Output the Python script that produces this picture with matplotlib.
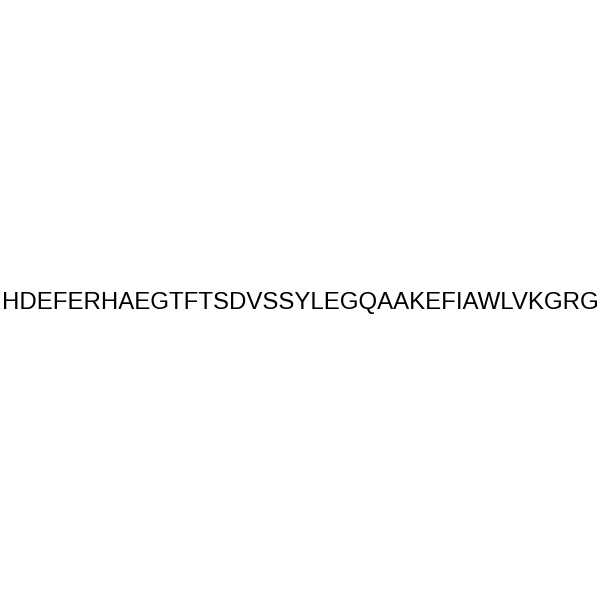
import matplotlib
matplotlib.use("Agg")
import matplotlib.pyplot as plt

sequence = "HDEFERHAEGTFTSDVSSYLEGQAAKEFIAWLVKGRG"

fig = plt.figure(figsize=(6, 6), dpi=100)
fig.text(0.5, 1 - 309 / 600, sequence, ha="center", va="baseline",
         fontsize=17.3, family="Liberation Sans", color="black")
fig.savefig("out.png", dpi=100, facecolor="white")
